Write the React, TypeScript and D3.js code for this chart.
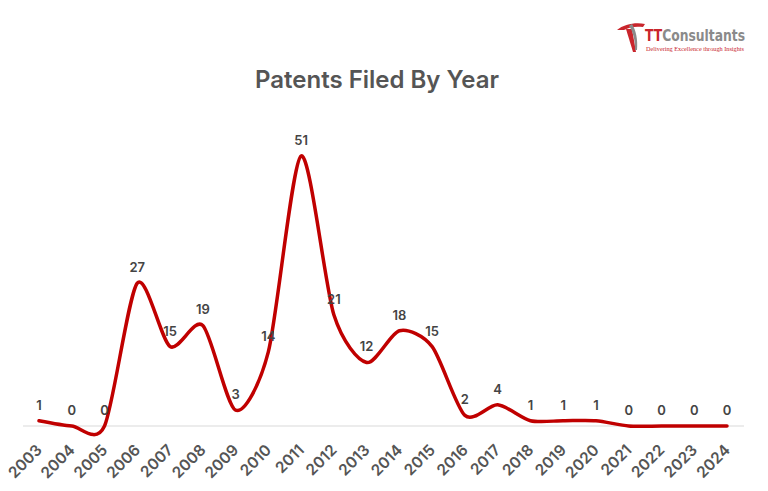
import React from "react";
import * as d3 from "d3";

const years = ["2003","2004","2005","2006","2007","2008","2009","2010","2011","2012","2013","2014","2015","2016","2017","2018","2019","2020","2021","2022","2023","2024"];
const counts = [1,0,0,27,15,19,3,14,51,21,12,18,15,2,4,1,1,1,0,0,0,0];
const title = "Patents Filed By Year";

const W = 768, H = 491;

export default function App() {
  const x = d3.scalePoint<string>().domain(years).range([39, 727]);
  const y = d3.scaleLinear().domain([0, 51]).range([426, 156]);
  const line = d3.line<number>()
    .x((_, i) => x(years[i]) as number)
    .y(d => y(d))
    .curve(d3.curveCardinal.tension(0.2));
  const path = line(counts) || "";
  const font = "Inter, 'Open Sans', sans-serif";
  return (
    <svg width={W} height={H} style={{ position: "absolute", left: 0, top: 0, background: "#fff" }}>
      {/* logo */}
      <g>
        <path d="M617,30 C624,24 636,22 645,24 L643,27 C636,26 629,27 624,30 Z" fill="#c9252c" />
        <path d="M626,29 L632,29 L636,52 L633,52 Z" fill="#c9252c" />
        <path d="M632,24 C636,30 638,40 637,50 L635,50 C635,40 633,31 629,26 Z" fill="#8a8a8a" />
        <text x={645} y={41} fontFamily="'Liberation Sans Narrow', 'DejaVu Sans Condensed', sans-serif" fontWeight={700} fontSize={15} fill="#8a8a8a" textLength={100} lengthAdjust="spacingAndGlyphs">
          <tspan fill="#c9252c">TT</tspan>Consultants
        </text>
        <text x={646} y={51} fontFamily="'Liberation Serif', serif" fontSize={6} fill="#c9252c" textLength={98} lengthAdjust="spacingAndGlyphs">Delivering Excellence through Insights</text>
      </g>
      <text x={377} y={88} textAnchor="middle" fontFamily={font} fontWeight={600} fontSize={24} fill="#555">{title}</text>
      <line x1={23} x2={744} y1={426} y2={426} stroke="#d9d9d9" strokeWidth={1} />
      <path d={path} fill="none" stroke="#c00000" strokeWidth={3.5} strokeLinejoin="round" strokeLinecap="round" />
      {counts.map((v, i) => (
        <text key={"l" + i} x={x(years[i]) as number} y={y(v) - 11} textAnchor="middle" fontFamily={font} fontWeight={600} fontSize={13} fill="#444">{v}</text>
      ))}
      {years.map((yr, i) => {
        const ax = (x(yr) as number) + 4, ay = 451;
        return (
          <text key={"x" + i} x={ax} y={ay} transform={`rotate(-45 ${ax} ${ay})`} textAnchor="end" fontFamily={font} fontWeight={600} fontSize={15.5} fill="#555">{yr}</text>
        );
      })}
    </svg>
  );
}
